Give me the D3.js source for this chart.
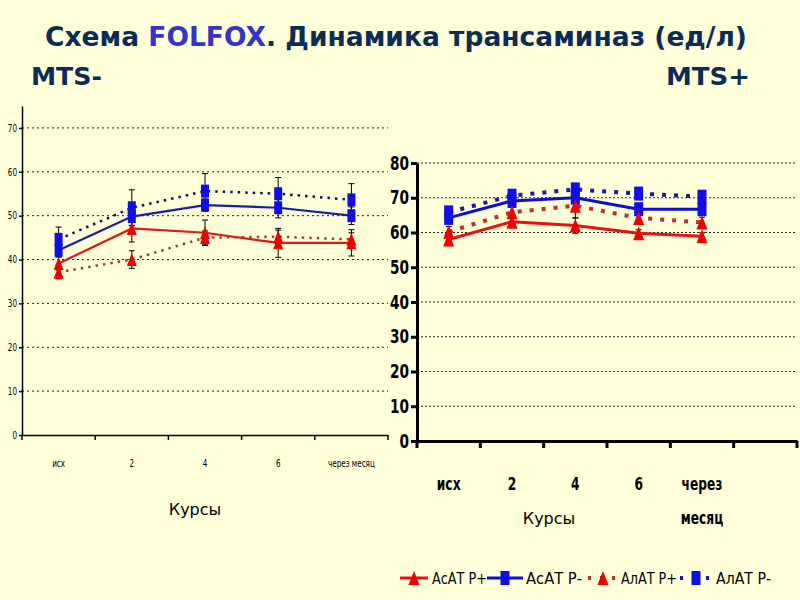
<!DOCTYPE html>
<html><head><meta charset="utf-8">
<script src="https://cdn.jsdelivr.net/npm/d3@7/dist/d3.min.js"></script>
<style>body{margin:0;background:#ffffd9;} svg{display:block;}</style>
</head><body><svg id="c" width="800" height="600"></svg>
<script>
// ---- data ----
const categories = ["исх", "2", "4", "6", "через месяц"];
const seriesNames = ["АсАТ Р+", "АсАТ Р-", "АлАТ Р+", "АлАТ Р-"];
const yTicksLeft = [0, 10, 20, 30, 40, 50, 60, 70];
const yTicksRight = [0, 10, 20, 30, 40, 50, 60, 70, 80];

// MTS- (left)
const asatPplusL  = [39.1, 47.1, 46.1, 43.8, 43.8];
const asatPminusL = [42.1, 49.8, 52.4, 51.8, 50.0];
const alatPplusL  = [37.1, 40.0, 45.0, 45.2, 44.6];
const alatPminusL = [44.6, 51.8, 55.6, 55.0, 53.6];
const errAsatPplusL  = [1.5, 3.1, 2.9, 3.3, 3.0];
const errAsatPminusL = [1.5, 2.0, 1.4, 2.3, 2.0];
const errAlatPplusL  = [1.5, 2.0, 1.5, 1.5, 1.5];
const errAlatPminusL = [2.8, 4.1, 4.0, 3.7, 3.7];

// MTS+ (right)
const asatPplusR  = [58.0, 63.1, 62.0, 59.8, 58.9];
const asatPminusR = [64.2, 69.1, 70.0, 66.7, 66.7];
const alatPplusR  = [60.2, 65.8, 67.7, 64.2, 62.9];
const alatPminusR = [65.8, 70.6, 72.4, 71.2, 70.3];
const errAsatPplusR  = [1.0, 1.0, 2.2, 1.0, 1.0];
const errAsatPminusR = [1.0, 1.0, 1.0, 1.0, 1.0];
const errAlatPplusR  = [1.5, 1.5, 3.5, 1.5, 1.5];
const errAlatPminusR = [1.0, 1.0, 1.0, 1.0, 1.0];

const svg = d3.select("#c");
svg.append("rect").attr("width",800).attr("height",600).attr("fill","#ffffd9");

const NAVY = "#0c2c58";
const SANS = "'DejaVu Sans',Verdana,sans-serif";

// emulate a condensed face by squeezing glyphs
function condense(sel, f){
  sel.each(function(){
    const L = this.getComputedTextLength();
    d3.select(this).attr("textLength", L*f).attr("lengthAdjust","spacingAndGlyphs");
  });
}
function fitTo(sel, w){ sel.attr("textLength", w).attr("lengthAdjust","spacingAndGlyphs"); }

// ---- titles ----
const t = svg.append("text").attr("x",396).attr("y",46).attr("text-anchor","middle")
  .attr("font-family",SANS).attr("font-weight","bold").attr("font-size",26).attr("fill",NAVY);
t.append("tspan").text("Схема ");
t.append("tspan").attr("fill","#3434cc").text("FOLFOX");
t.append("tspan").text(". Динамика трансаминаз (ед/л)");
fitTo(t, 702);
const m1 = svg.append("text").attr("x",31).attr("y",85).attr("font-family",SANS)
  .attr("font-weight","bold").attr("font-size",24).attr("fill",NAVY).text("MTS-");
fitTo(m1, 71);
const m2 = svg.append("text").attr("x",750).attr("y",85).attr("text-anchor","end").attr("font-family",SANS)
  .attr("font-weight","bold").attr("font-size",24).attr("fill",NAVY).text("MTS+");
fitTo(m2, 84);

function tri(w,h){ return `M0,${-h/2}L${w/2},${h/2}L${-w/2},${h/2}Z`; }

function drawChart(cfg){
  const g = svg.append("g");
  const x = d3.scaleBand().domain(cfg.domain).range(cfg.xr);
  const y = d3.scaleLinear().domain(cfg.yd).range(cfg.yr);
  const cx = (i)=> x(categories[i]) + x.bandwidth()/2;

  // gridlines
  g.selectAll("line.grid").data(cfg.yticks.filter(v=>v>0)).enter().append("line")
    .attr("x1",cfg.xr[0]).attr("x2",cfg.xr[1]).attr("y1",d=>y(d)).attr("y2",d=>y(d))
    .attr("stroke","#222").attr("stroke-width",1).attr("stroke-dasharray",cfg.gridDash);

  // y axis
  const ya = d3.axisLeft(y).tickValues(cfg.yticks).tickSize(cfg.tickSize).tickSizeOuter(0).tickPadding(cfg.tickPad);
  const yg = g.append("g").attr("transform",`translate(${cfg.xr[0]},0)`).call(ya);
  yg.select(".domain").attr("stroke","#000").attr("stroke-width",cfg.axisW);
  yg.selectAll(".tick line").attr("stroke","#000").attr("stroke-width",cfg.axisW);
  const yt = yg.selectAll(".tick text").attr("font-family",SANS).attr("font-size",cfg.yFont)
    .attr("font-weight",cfg.yWeight).attr("fill","#000");
  condense(yt, cfg.cond);

  // x axis
  const xa = d3.axisBottom(x).tickSize(0).tickFormat("");
  const xg = g.append("g").attr("transform",`translate(0,${cfg.yr[0]})`).call(xa);
  xg.select(".domain").attr("stroke","#000").attr("stroke-width",cfg.axisW);
  const bounds = cfg.domain.map(d=>x(d)).concat([cfg.xr[1]]);
  g.selectAll("line.xt").data(bounds).enter().append("line")
    .attr("x1",d=>d).attr("x2",d=>d).attr("y1",cfg.yr[0]).attr("y2",cfg.yr[0]+cfg.xTick)
    .attr("stroke","#000").attr("stroke-width",cfg.axisW);
  // category labels
  categories.forEach((c,i)=>{
    const lines = cfg.wrap ? c.split(" ") : [c];
    const tx = g.append("text").attr("x",cx(i)).attr("y",cfg.xLabY).attr("text-anchor","middle")
      .attr("font-family",SANS).attr("font-size",cfg.xFont).attr("font-weight",cfg.xWeight).attr("fill","#000");
    lines.forEach((l,k)=> {
      tx.append("tspan").attr("x",cx(i)).attr("dy",k?cfg.xLine:0).text(l);
    });
    condense(tx.selectAll("tspan"), cfg.cond);
  });
  g.append("text").attr("x",cfg.kx).attr("y",cfg.ky).attr("text-anchor","middle")
    .attr("font-family",SANS).attr("font-size",16).attr("fill","#000").text("Курсы");

  const series = [
    {v:cfg.s[0], e:cfg.e[0], color:cfg.c.redSolid, dash:null, w:cfg.solidW, mk:"tri", mc:"#f00000"},
    {v:cfg.s[1], e:cfg.e[1], color:cfg.c.blueSolid, dash:null, w:cfg.solidW, mk:"sq", mc:"#1010e6"},
    {v:cfg.s[2], e:cfg.e[2], color:cfg.c.redDot, dash:cfg.dotDash, w:cfg.dotW, mk:"tri", mc:"#f00000"},
    {v:cfg.s[3], e:cfg.e[3], color:cfg.c.blueDot, dash:cfg.dotDash, w:cfg.dotW, mk:"sq", mc:"#1010e6"}
  ];
  const line = d3.line().x((d,i)=>cx(i)).y(d=>y(d));
  // error bars
  series.forEach(s=>{
    s.v.forEach((v,i)=>{
      const X = cx(i);
      g.append("line").attr("x1",X).attr("x2",X).attr("y1",y(v+s.e[i])).attr("y2",y(v-s.e[i])).attr("stroke","#000").attr("stroke-width",1);
      [v+s.e[i], v-s.e[i]].forEach(b=> g.append("line").attr("x1",X-3).attr("x2",X+3).attr("y1",y(b)).attr("y2",y(b)).attr("stroke","#000").attr("stroke-width",1));
    });
  });
  series.forEach(s=>{
    g.append("path").attr("d",line(s.v)).attr("fill","none").attr("stroke",s.color)
      .attr("stroke-width",s.w).attr("stroke-dasharray",s.dash);
  });
  series.forEach(s=>{
    s.v.forEach((v,i)=>{
      if(s.mk==="sq"){
        g.append("rect").attr("x",cx(i)-cfg.sqW/2).attr("y",y(v)-cfg.sqH/2).attr("width",cfg.sqW).attr("height",cfg.sqH).attr("fill",s.mc);
      } else {
        g.append("path").attr("d",tri(cfg.trW,cfg.trH)).attr("transform",`translate(${cx(i)},${y(v)})`).attr("fill",s.mc);
      }
    });
  });
}

drawChart({
  domain: categories, xr:[22,388], yd:[0,75], yr:[435,106], yticks:yTicksLeft,
  gridDash:"2,3", tickSize:3, tickPad:2, axisW:1.5, yFont:10, yWeight:"normal", cond:0.72,
  xTick:5, xLabY:467, xFont:10, xWeight:"normal", wrap:false, xLine:0, kx:195, ky:515,
  s:[asatPplusL, asatPminusL, alatPplusL, alatPminusL],
  e:[errAsatPplusL, errAsatPminusL, errAlatPplusL, errAlatPminusL],
  c:{redSolid:"#dd1818", blueSolid:"#1c1ca8", redDot:"#b03a28", blueDot:"#10105a"},
  solidW:2.2, dotW:2.5, dotDash:"2.5,5", sqW:8, sqH:13, trW:10, trH:13
});

drawChart({
  domain: categories.concat([""]), xr:[417,797], yd:[0,80], yr:[441,163], yticks:yTicksRight,
  gridDash:"2,2", tickSize:6, tickPad:2, axisW:3, yFont:19, yWeight:"bold", cond:0.72,
  xTick:7, xLabY:490, xFont:17, xWeight:"bold", wrap:true, xLine:34, kx:549, ky:524,
  s:[asatPplusR, asatPminusR, alatPplusR, alatPminusR],
  e:[errAsatPplusR, errAsatPminusR, errAlatPplusR, errAlatPminusR],
  c:{redSolid:"#ee1010", blueSolid:"#0c0ce0", redDot:"#c0302a", blueDot:"#1a1aa8"},
  solidW:3, dotW:4, dotDash:"4,8", sqW:9, sqH:14, trW:11, trH:14
});

// ---- legend ----
const lg = svg.append("g");
const legItems = [
  {name:seriesNames[0], color:"#ee1010", mk:"tri", dash:null, x0:400, x1:428, tx:432, tw:55},
  {name:seriesNames[1], color:"#0c0ce0", mk:"sq", dash:null, x0:487, x1:523, tx:526, tw:56},
  {name:seriesNames[2], color:"#c0302a", mk:"tri", dash:"3,9", x0:588, x1:618, tx:621, tw:56},
  {name:seriesNames[3], color:"#1a1aa8", mk:"sq", dash:"3,10", x0:680, x1:712, tx:716, tw:55}
];
legItems.forEach(it=>{
  const ly = 578, mx=(it.x0+it.x1)/2;
  lg.append("line").attr("x1",it.x0).attr("x2",it.x1).attr("y1",ly).attr("y2",ly)
    .attr("stroke",it.color).attr("stroke-width",it.dash?4:3).attr("stroke-dasharray",it.dash);
  if(it.mk==="sq") lg.append("rect").attr("x",mx-4.5).attr("y",ly-7).attr("width",9).attr("height",14).attr("fill","#1010e6");
  else lg.append("path").attr("d",tri(11,14)).attr("transform",`translate(${mx},${ly})`).attr("fill","#f00000");
  const tt = lg.append("text").attr("x",it.tx).attr("y",ly+6).attr("font-family",SANS).attr("font-size",16)
    .attr("fill","#000").text(it.name);
  fitTo(tt, it.tw);
});
</script></body></html>
